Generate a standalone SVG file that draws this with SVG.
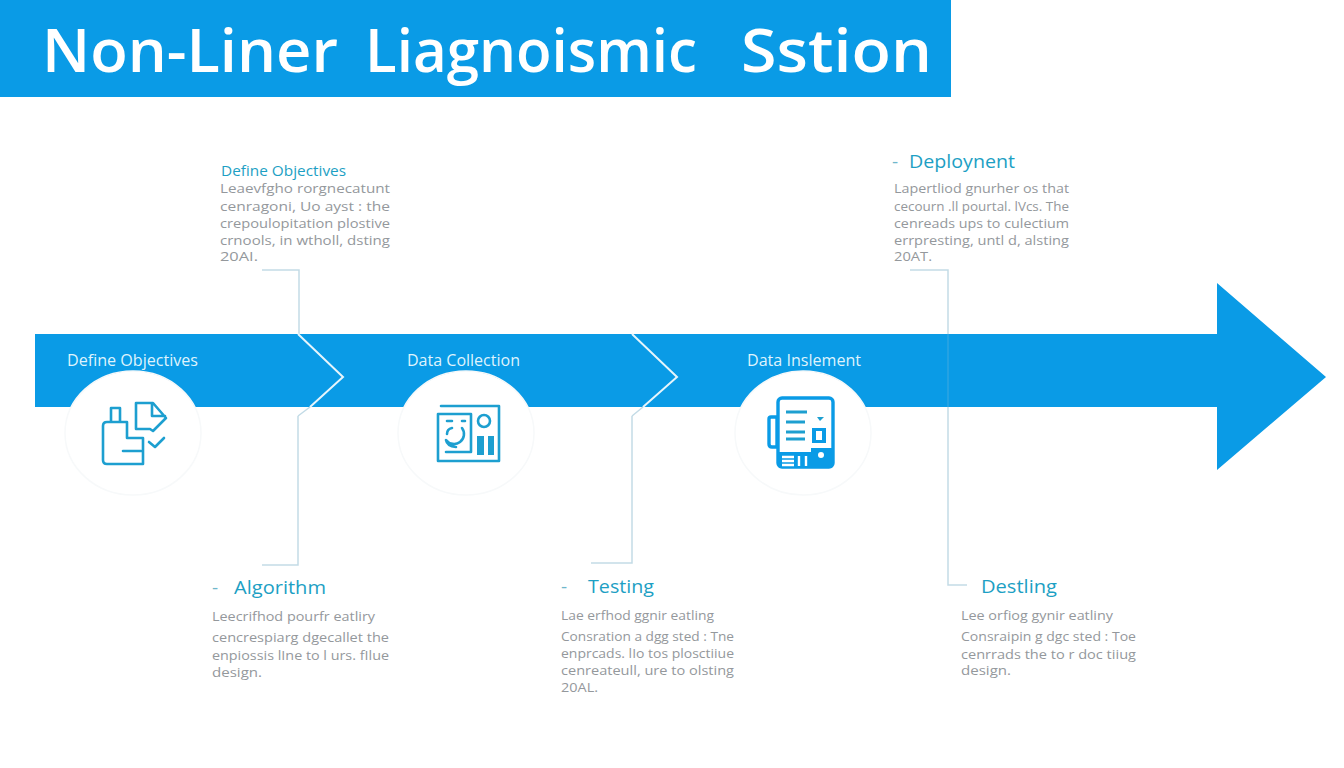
<svg xmlns="http://www.w3.org/2000/svg" width="1344" height="768" viewBox="0 0 1344 768">
<style>
text{font-family:"Open Sans","Liberation Sans",sans-serif}
.title{font-size:60px;font-weight:600;fill:#fff}
.band{font-size:16px;fill:#dff3fd}
.head{font-size:19px;fill:#1d9fc4}
.headS{font-size:14.5px;fill:#1d9fc4}
.body{font-size:13px;fill:#94989c}
.lead{stroke:#c3dbe6;stroke-width:1.5;fill:none}
.chev{stroke:#e6f5fc;stroke-width:2;fill:none}
.ic{stroke:#1d9fd0;stroke-width:2.6;fill:none;stroke-linejoin:round;stroke-linecap:round}
.disc{fill:#fff;stroke:#f7f9fa;stroke-width:1.5}
</style>
<rect width="1344" height="768" fill="#fff"/>
<g id="banner"><rect x="0" y="0" width="951" height="97" fill="#0a9be6"/>
<text class="title" y="72"><tspan x="42" textLength="296" lengthAdjust="spacingAndGlyphs">Non-Liner</tspan> <tspan x="365" textLength="332" lengthAdjust="spacingAndGlyphs">Liagnoismic</tspan> <tspan x="741" textLength="191" lengthAdjust="spacingAndGlyphs">Sstion</tspan></text></g>
<g id="main-arrow"><polygon points="35,334 1217,334 1217,283 1326,377 1217,470 1217,407 35,407" fill="#0a9be6"/></g>
<g id="connectors">
<path class="lead" d="M262 270H299V334M298 416V565H262"/>
<path class="lead" d="M632 416V563H591"/>
<path class="lead" d="M910 270H948V334M948 407V585H967"/>
<path d="M948 334V407" stroke="#3fa9e0" stroke-width="1" fill="none"/>
<path class="chev" d="M298 334L343 377L310 407"/>
<path class="chev" d="M632 334L677 377L643 407"/>
<path class="lead" d="M310 407L298 416M643 407L632 416"/>
</g>
<g id="step-define-objectives">
<text class="band" x="67" y="366" textLength="131" lengthAdjust="spacingAndGlyphs">Define Objectives</text>
<ellipse class="disc" cx="133" cy="433" rx="68" ry="62"/>
<path class="ic" d="M111 422V408H120V422M107 422H127V438H143V464H107Q103 464 103 460V426Q103 422 107 422ZM123 451H141"/>
<path class="ic" d="M136 403H153L166 418L153 431L150 429H136ZM152 404V416H165M149 442L155 447L164 438"/>
</g>
<g id="step-data-collection">
<text class="band" x="407" y="366" textLength="113" lengthAdjust="spacingAndGlyphs">Data Collection</text>
<ellipse class="disc" cx="466" cy="433" rx="68" ry="62"/>
<path class="ic" d="M441 406H499V461H438V414H471V452"/>
<path class="ic" d="M462 428A10 10 0 0 1 446 440Q447 446 456 447M452 428Q447 429 447 434M446 452H470M447 421H452M462 421H465" stroke-width="2.2"/>
<circle class="ic" cx="484" cy="421" r="6"/>
<rect x="477" y="436" width="7" height="19" fill="#1d9fd0"/><rect x="488" y="436" width="6" height="19" fill="#1d9fd0"/>
</g>
<g id="step-data-inslement">
<text class="band" x="747" y="366" textLength="114" lengthAdjust="spacingAndGlyphs">Data Inslement</text>
<ellipse class="disc" cx="803" cy="433" rx="68" ry="62"/>
<path d="M777 417H771Q769 417 769 419V444Q769 447 772 447H777Z" fill="#fff" stroke="#0a9be6" stroke-width="3.4"/>
<rect x="778" y="398" width="55" height="69" rx="4" fill="#fff" stroke="#0a9be6" stroke-width="3.4"/>
<path d="M786 412H807M786 422H805M786 432H805M786 439H805" stroke="#1d9fd0" stroke-width="2.8"/>
<path d="M817 417H824L820 421Z" fill="#1d9fd0"/>
<rect x="812" y="428" width="14" height="15" fill="#0a9be6"/><rect x="816" y="431" width="6" height="9" fill="#fff"/>
<path d="M778 452H811V448H833V465Q833 468 830 468H781Q778 468 778 465Z" fill="#0a9be6"/>
<path d="M782 457H794M782 461H794M782 465H794M799 456V466M806 456V466" stroke="#fff" stroke-width="2.4"/>
<circle cx="821" cy="455" r="3" fill="#fff"/>
</g>
<g id="note-define-objectives">
<text class="headS" x="221" y="176" textLength="125" lengthAdjust="spacingAndGlyphs">Define Objectives</text>
<text class="body" x="220" y="193" textLength="170" lengthAdjust="spacingAndGlyphs">Leaevfgho rorgnecatunt</text>
<text class="body" x="220" y="211" textLength="170" lengthAdjust="spacingAndGlyphs">cenragoni, Uo  ayst : the</text>
<text class="body" x="220" y="228" textLength="170" lengthAdjust="spacingAndGlyphs">crepoulopitation  plostive</text>
<text class="body" x="220" y="245" textLength="170" lengthAdjust="spacingAndGlyphs">crnools, in wtholl,  dsting</text>
<text class="body" x="220" y="261" textLength="38" lengthAdjust="spacingAndGlyphs">20AI.</text>
</g>
<g id="note-deployment">
<text class="head" x="892" y="168"><tspan fill="#6fb7cc">-</tspan><tspan x="909" textLength="106" lengthAdjust="spacingAndGlyphs">Deploynent</tspan></text>
<text class="body" x="894" y="193" textLength="175" lengthAdjust="spacingAndGlyphs">Lapertliod gnurher os that</text>
<text class="body" x="894" y="211" textLength="175" lengthAdjust="spacingAndGlyphs">cecourn .ll pourtal. lVcs. The</text>
<text class="body" x="894" y="228" textLength="175" lengthAdjust="spacingAndGlyphs">cenreads  ups  to  culectium</text>
<text class="body" x="894" y="245" textLength="175" lengthAdjust="spacingAndGlyphs">errpresting,  untl d,  alsting</text>
<text class="body" x="894" y="261" textLength="38" lengthAdjust="spacingAndGlyphs">20AT.</text>
</g>
<g id="note-algorithm">
<text class="head" x="212" y="594"><tspan fill="#6fb7cc">-</tspan><tspan x="234" textLength="92" lengthAdjust="spacingAndGlyphs">Algorithm</tspan></text>
<text class="body" x="212" y="621" textLength="163" lengthAdjust="spacingAndGlyphs">Leecrifhod pourfr eatliry</text>
<text class="body" x="212" y="642" textLength="177" lengthAdjust="spacingAndGlyphs">cencrespiarg  dgecallet the</text>
<text class="body" x="212" y="660" textLength="177" lengthAdjust="spacingAndGlyphs">enpiossis  lIne to  l urs. fIlue</text>
<text class="body" x="212" y="677" textLength="50" lengthAdjust="spacingAndGlyphs">design.</text>
</g>
<g id="note-testing">
<text class="head" x="561" y="593"><tspan fill="#6fb7cc">-</tspan><tspan x="588" textLength="66" lengthAdjust="spacingAndGlyphs">Testing</tspan></text>
<text class="body" x="561" y="620" textLength="153" lengthAdjust="spacingAndGlyphs">Lae erfhod ggnir eatling</text>
<text class="body" x="561" y="641" textLength="173" lengthAdjust="spacingAndGlyphs">Consration  a  dgg sted  : Tne</text>
<text class="body" x="561" y="658" textLength="173" lengthAdjust="spacingAndGlyphs">enprcads.  lIo  tos  plosctiiue</text>
<text class="body" x="561" y="675" textLength="173" lengthAdjust="spacingAndGlyphs">cenreateull,  ure to   olsting</text>
<text class="body" x="561" y="692" textLength="37" lengthAdjust="spacingAndGlyphs">20AL.</text>
</g>
<g id="note-destling">
<text class="head" x="981" y="593" textLength="76" lengthAdjust="spacingAndGlyphs">Destling</text>
<text class="body" x="961" y="620" textLength="152" lengthAdjust="spacingAndGlyphs">Lee orfiog gynir eatliny</text>
<text class="body" x="961" y="641" textLength="175" lengthAdjust="spacingAndGlyphs">Consraipin g  dgc sted : Toe</text>
<text class="body" x="961" y="659" textLength="175" lengthAdjust="spacingAndGlyphs">cenrrads  the  to  r doc tiiug</text>
<text class="body" x="961" y="675" textLength="50" lengthAdjust="spacingAndGlyphs">design.</text>
</g>
</svg>
